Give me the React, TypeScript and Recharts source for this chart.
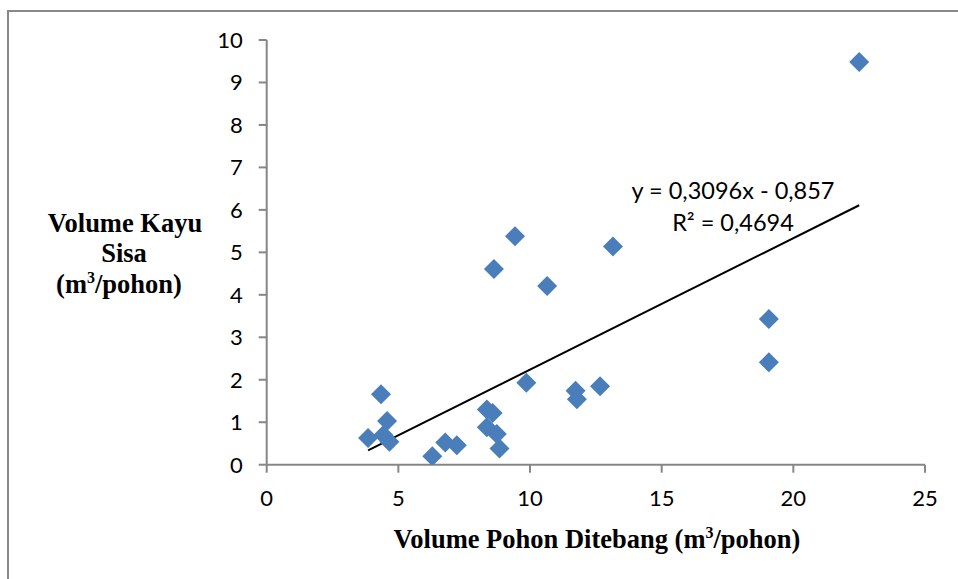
import React from "react";
import { ScatterChart, Scatter, XAxis, YAxis, ReferenceLine, Customized } from "recharts";

// Volume Pohon Ditebang (m3/pohon)
const xValues = [22.5, 9.43, 13.15, 8.63, 10.65, 19.07, 19.07, 9.86, 12.66, 11.73, 11.78, 4.34, 4.57, 3.85, 4.43, 4.66, 6.29, 6.78, 7.22, 8.36, 8.58, 8.36, 8.74, 8.84];
// Volume Kayu Sisa (m3/pohon)
const yValues = [9.48, 5.38, 5.14, 4.61, 4.21, 3.43, 2.41, 1.93, 1.85, 1.74, 1.54, 1.66, 1.03, 0.63, 0.7, 0.54, 0.2, 0.52, 0.46, 1.3, 1.22, 0.88, 0.72, 0.38];

const xTicks = [0, 5, 10, 15, 20, 25];
const yTicks = [0, 1, 2, 3, 4, 5, 6, 7, 8, 9, 10];

const slope = 0.3096;
const intercept = -0.857;
const equationLabel = "y = 0,3096x - 0,857";
const r2Label = "R² = 0,4694";

const points = xValues.map((x, i) => ({ x, y: yValues[i] }));
const xMin = Math.min(...xValues);
const xMax = Math.max(...xValues);

const W = 958;
const H = 579;
const AXIS = "#868686";
const MARK = "#4A7EBB";
const tickFont = { fontFamily: "Lato", fontSize: 22, fill: "#000" };

const Diamond = (props: any) => {
  const { cx, cy } = props;
  const r = 10;
  return (
    <polygon
      points={`${cx},${cy - r} ${cx + r},${cy} ${cx},${cy + r} ${cx - r},${cy}`}
      fill={MARK}
    />
  );
};

const Overlay = () => (
  <g>
    <rect x={8} y={11} width={W + 20} height={H + 20} fill="none" stroke="#898989" strokeWidth={2} />
    <g fontFamily="Liberation Serif" fontWeight="bold" fontSize={26.5} fill="#000" textAnchor="middle">
      <text x={125} y={232}>Volume Kayu</text>
      <text x={124} y={262}>Sisa</text>
      <text x={119} y={293}>
        (m<tspan fontSize={16} dy={-10}>3</tspan>
        <tspan dy={10}>/pohon)</tspan>
      </text>
      <text x={597} y={548}>
        Volume Pohon Ditebang (m<tspan fontSize={16} dy={-10}>3</tspan>
        <tspan dy={10}>/pohon)</tspan>
      </text>
    </g>
    <g fontFamily="Lato" fontSize={23.5} fill="#000" textAnchor="middle">
      <text x={733} y={199}>{equationLabel}</text>
      <text x={733} y={231}>{r2Label}</text>
    </g>
  </g>
);

export default function App() {
  return (
    <div style={{ position: "absolute", left: 0, top: 0, width: W, height: H, background: "#fff" }}>
      <ScatterChart width={W} height={H} margin={{ top: 40, right: 33, bottom: 74.3, left: 206.7 }}>
        <XAxis
          type="number"
          dataKey="x"
          domain={[0, 25]}
          ticks={xTicks}
          height={40}
          stroke={AXIS}
          strokeWidth={2}
          tickSize={8}
          tickMargin={18}
          tick={tickFont}
          allowDataOverflow
        />
        <YAxis
          type="number"
          dataKey="y"
          domain={[0, 10]}
          ticks={yTicks}
          width={60}
          stroke={AXIS}
          strokeWidth={2}
          tickSize={8}
          tickMargin={16}
          tick={tickFont}
          allowDataOverflow
        />
        <Scatter data={points} shape={<Diamond />} isAnimationActive={false} />
        <ReferenceLine
          segment={[
            { x: xMin, y: slope * xMin + intercept },
            { x: xMax, y: slope * xMax + intercept },
          ]}
          stroke="#000"
          strokeWidth={2}
          ifOverflow="visible"
        />
        <Customized component={Overlay} />
      </ScatterChart>
    </div>
  );
}
